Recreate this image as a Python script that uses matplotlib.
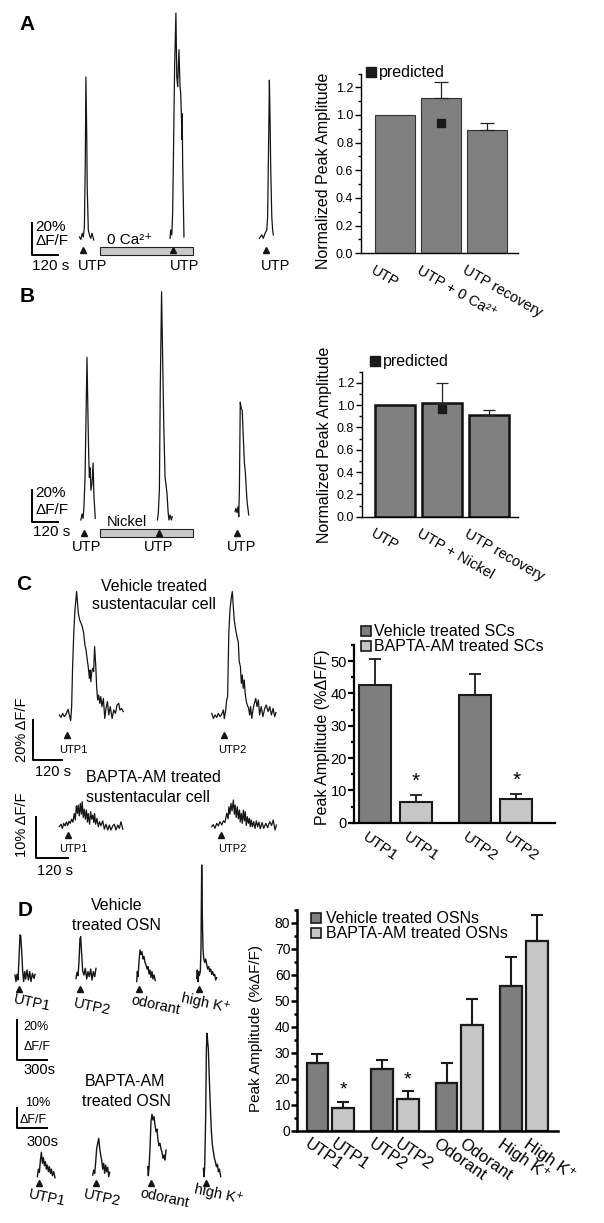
import numpy as np
import matplotlib
matplotlib.use('Agg')
import matplotlib.pyplot as plt
from matplotlib.lines import Line2D
from matplotlib.ticker import MultipleLocator
from matplotlib.transforms import ScaledTranslation

plt.rcParams['font.family'] = ['Liberation Sans', 'DejaVu Sans']

# ---------------- traces (time in s, response in %dF/F) ----------------
# panel A
a1_t = [218, 225, 231, 236, 241, 245, 248, 252, 254, 259, 264, 270, 276, 284]
a1_v = [0, -1.5, 2.3, 0, 6.5, 44, 100, 61, 31, 4.4, 1.3, -0.8, 2.3, -1.9]
a2_t = [635, 638, 643, 647, 650, 656, 662, 666, 670, 676, 681, 684, 687, 690, 691, 693, 696, 699]
a2_v = [-0.8, 4.4, 1.3, 14.8, 44, 106, 140, 100, 94, 117, 94, 90, 77, 61, 77, 46, 23, 0]
a3_t = [1046, 1057, 1064, 1072, 1080, 1084, 1089, 1092, 1095, 1098, 1103, 1107, 1110]
a3_v = [-0.8, 1.3, -0.8, 2.3, 4.4, 12.7, 65, 98, 75, 44, 12.7, 4.4, 1.3]
a_stim = [236, 650, 1076]

# panel B
b1_t = [225, 230, 235, 239, 244, 248, 253, 258, 261, 264, 267, 271, 276, 281, 285, 291]
b1_v = [-0.6, 3.1, 0.4, 7.7, 26, 60, 101, 60, 39, 26, 32, 18, 22, 35, 14, 0.4]
b2_t = [577, 581, 586, 590, 596, 601, 606, 612, 616, 621, 626, 630, 635, 641, 645]
b2_v = [-0.6, 3.5, 18, 81, 142, 101, 60, 26, 22, 16, 4.6, -0.6, 2.5, -0.6, 1.5]
b3_t = [934, 938, 943, 948, 951, 954, 958, 963, 967, 972, 977, 981, 986, 990, 997]
b3_v = [4.6, 6.7, 4, 7.7, 1.5, 18, 73, 69, 68, 51, 35, 30, 18, 10, 2.5]
b_stim = [241, 586, 944]

# panel C, vehicle treated sustentacular cell
c1_t = [110, 117, 124, 131, 138, 147, 152, 158, 162, 166, 171, 176, 183, 186, 190, 196, 202,
        207, 213, 218, 223, 228, 232, 237, 240, 243, 247, 251, 255, 259, 264, 268, 272, 276,
        281, 285, 290, 296, 302, 307, 313, 319, 325, 333, 340, 347, 354, 361, 366, 373, 380]
c1_v = [0, -1.2, 0.8, -0.8, 0.3, 2.8, 0, -2.8, 4.2, 24, 41, 52.5, 61.7, 57.5, 51, 47.5, 45.8,
        44.2, 40.8, 35, 32.5, 27.5, 24.2, 18.3, 22.5, 16.7, 21.7, 23.3, 21.7, 34.2, 24.2, 13.3,
        7.5, 10, 5.8, 9.2, 4.2, 8.3, -1.7, 3.3, 6.7, 0, 4.2, -1.7, 2.5, 0.8, 5, 5.8, 2.5, 3.3, 1.7]
c2_t = [754, 761, 768, 775, 782, 789, 796, 803, 807, 813, 817, 821, 826, 831, 837, 841, 845,
        849, 854, 858, 862, 866, 870, 875, 879, 883, 887, 891, 896, 900, 904, 910, 914, 918,
        923, 928, 934, 940, 945, 951, 956, 963, 970, 978, 984, 992, 999, 1006, 1013, 1020, 1025]
c2_v = [0.8, -1.7, 0, -1.2, 0.8, -0.8, 0.3, 2.5, -1.8, 2.5, 7.5, 9.2, 41, 52.5, 59.2, 61.7,
        54.2, 47.5, 43.3, 40.8, 38.3, 36.7, 26.7, 24.2, 15.8, 20, 13.3, 17.5, 10, 6.7, 5, 3.3,
        0, 4.2, -1.7, 2.5, 5.8, 8.3, 4.2, 7.5, 0, 4.2, -0.8, 3.3, 5, 1.7, 4.2, 0, 3.3, -0.8, 1.2]
c_stim = [141, 806]

# panel C, BAPTA-AM treated sustentacular cell
c3_t = [88, 95, 100, 105, 110, 115, 120, 125, 130, 135, 140, 145, 149, 153, 157, 160, 164,
        168, 172, 175, 179, 183, 187, 191, 195, 198, 203, 207, 211, 215, 219, 222, 226, 231,
        236, 241, 246, 253, 259, 265, 272, 278, 284, 291, 297, 303, 310, 316, 322, 329]
c3_v = [0, 0.6, -0.4, 0.8, 0.2, 1.1, 0.3, 1.3, 0.8, 1.8, 1.1, 3.2, 1.6, 5, 3.2, 5.2, 2.6,
        5.6, 3, 6, 2.2, 4.2, 1.8, 4, 1.1, 3.2, 0.6, 3.6, 1.8, 2.8, 1, 3.2, 0.6, 2, 0, 1.2, 0.2,
        1.4, -0.6, 0.6, -0.8, 0.4, -0.8, 0.2, 0.6, -0.8, 0.4, -0.4, 1.2, -0.6]
c4_t = [666, 672, 678, 685, 691, 697, 704, 710, 716, 723, 728, 731, 735, 739, 743, 748, 752,
        755, 759, 763, 767, 771, 774, 778, 782, 786, 790, 793, 797, 801, 805, 809, 812, 816,
        820, 825, 830, 835, 840, 845, 850, 857, 863, 871, 878, 886, 893, 899, 906, 911]
c4_v = [0, 0.5, -0.4, 0.8, 0.2, 1.2, 0.4, 1.4, 1, 3.2, 1.9, 4.8, 3, 5.6, 3.8, 6.4, 3, 5.2,
        2.2, 4.8, 1.9, 4, 1.1, 3.2, 0.8, 4, 1.4, 3.6, 0.3, 2.4, 0.8, 2, 0, 1.6, 0, 1.2, -0.4,
        1.4, 0, 1.1, -0.5, 1, -0.4, 0.8, -0.2, 1.2, 0.3, 1.6, -0.8, 0.4]
c_stim_b = [120, 700]

# panel D, vehicle treated OSN
d1_t = [-17, -7, 3, 13, 23, 33, 40, 50, 60, 70, 80, 90, 103, 117, 130, 143, 157, 173, 183]
d1_v = [2.5, -0.8, 2.8, 0, 10.8, 22.5, 22.2, 14.2, 4.2, -0.8, 4.2, 0.5, 5, 0, 4.2, -0.8, 3.3, 0.8, 2.8]
d2_t = [593, 603, 613, 623, 633, 640, 650, 660, 673, 686, 700, 713, 726, 740, 753, 766, 780, 793]
d2_v = [0.8, 3.8, 2.2, 9.2, 20.8, 21.7, 12.5, 4.5, 2.5, 5.8, 0.5, 4.2, 1.7, 5.5, 0, 4.2, 1.7, 5.8]
d3_t = [1200, 1206, 1213, 1223, 1233, 1243, 1253, 1263, 1273, 1283, 1293, 1303, 1313, 1323,
        1333, 1343, 1353, 1363, 1373, 1386]
d3_v = [-0.8, 4.2, 1.7, 9.2, 15, 12.8, 14.2, 10.5, 11.7, 8.8, 7.5, 5.5, 6.7, 3, 5, 1.3, 4.2,
        0.5, 2.5, -0.3]
d4_t = [1800, 1806, 1813, 1820, 1826, 1836, 1843, 1850, 1856, 1863, 1870, 1880, 1890, 1900,
        1910, 1920, 1930, 1940, 1950, 1960, 1970, 1980, 1990, 2000]
d4_v = [0.8, 5, -0.8, 4.2, 2.2, 4.2, 15.8, 57.5, 32.5, 15.8, 10.8, 8.8, 10.5, 7.8, 5.5, 6.7,
        4.2, 5.5, 2.8, 4.2, 2.2, 2.8, 0, 1.2]
d_stim = [26, 633, 1226, 1826]

# panel D, BAPTA-AM treated OSN
d5_t = [207, 217, 227, 237, 247, 257, 267, 277, 287, 297, 307, 317, 327, 337, 347, 357, 370, 383]
d5_v = [0, 3.8, 2.2, 8.3, 12.2, 6.7, 9.5, 5.5, 7.5, 3.8, 5.8, 2.5, 5, 1.7, 3.8, 0.5, 2.5, -0.5]
d6_t = [760, 770, 780, 790, 800, 810, 820, 830, 840, 850, 860, 870, 880, 890, 900, 910, 920, 930]
d6_v = [0.8, 3.3, 1.7, 7.5, 14.2, 16.7, 19.2, 14.2, 10.8, 8.3, 3.8, 6.7, 1.7, 5.8, 2.5, 4.7, 0, 2.2]
d7_t = [1310, 1316, 1323, 1333, 1343, 1353, 1363, 1373, 1383, 1393, 1403, 1413, 1423, 1433,
        1443, 1453, 1463, 1473, 1483, 1493]
d7_v = [5, 0.5, 4.2, 14.2, 27.5, 31.2, 28.3, 30, 25.8, 22.5, 23.8, 18.3, 15.5, 16.7, 13.8,
        12.2, 9.2, 10.8, 8.3, 13.3]
d8_t = [1867, 1873, 1880, 1890, 1897, 1903, 1910, 1917, 1927, 1937, 1947, 1957, 1967, 1977,
        1987, 1997, 2007, 2017, 2027, 2040]
d8_v = [4.2, 0, 5, 30.8, 64.2, 71.7, 67.5, 63.3, 47.5, 34.2, 22.5, 15.8, 12.5, 9.2, 7.5, 5,
        6.2, 2.5, 3.8, 0]
d_stim_b = [227, 793, 1340, 1890]

# ---------------- bar charts ----------------
a_labels = ['UTP', 'UTP + 0 Ca\u00b2\u207a', 'UTP recovery']
a_means = [1.0, 1.12, 0.89]
a_err = [0, 0.12, 0.05]
a_pred = 0.945

b_labels = ['UTP', 'UTP + Nickel', 'UTP recovery']
b_means = [1.0, 1.02, 0.915]
b_err = [0, 0.18, 0.04]
b_pred = 0.96

c_labels = ['UTP1', 'UTP1', 'UTP2', 'UTP2']
c_means = [42.5, 6.5, 39.4, 7.2]
c_err = [8.3, 2.1, 6.5, 1.7]
c_group = [0, 1, 0, 1]
c_sig = [False, True, False, True]

d_labels = ['UTP1', 'UTP1', 'UTP2', 'UTP2', 'Odorant', 'Odorant', 'High K\u207a', 'High K\u207a']
d_means = [26.1, 8.7, 23.9, 12.2, 18.6, 40.8, 55.6, 72.9]
d_err = [3.4, 2.6, 3.4, 3.2, 7.6, 9.9, 11.5, 10.3]
d_group = [0, 1, 0, 1, 0, 1, 0, 1]
d_sig = [False, True, False, True, False, False, False, False]

DARK = '#7e7e7e'
LIGHT = '#c6c6c6'
INK = '#151515'

W, H = 604, 1223
fig = plt.figure(figsize=(W / 100, H / 100), dpi=100)


def box(x0, y0, x1, y1):
    return [x0 / W, 1 - y1 / H, (x1 - x0) / W, (y1 - y0) / H]


def ftext(x, y, s, **kw):
    kw.setdefault('ha', 'center')
    kw.setdefault('va', 'center')
    fig.text(x / W, 1 - y / H, s, **kw)


def trace_axes(x0, y0, x1, y1, ox, oy, sx, sy):
    ax = fig.add_axes(box(x0, y0, x1, y1))
    ax.set_xlim((x0 - ox) * sx, (x1 - ox) * sx)
    ax.set_ylim((oy - y1) * sy, (oy - y0) * sy)
    ax.axis('off')
    return ax


def trace(ax, t, v, lw=0.9):
    ax.plot(t, v, color=INK, lw=lw, clip_on=False)


def stim(ax, ts, y):
    ax.plot(ts, [y] * len(ts), ls='', marker='^', ms=5, color=INK, clip_on=False, zorder=5)


def scalebar(ax, top, bot, width):
    ax.plot([0, 0, width], [top, bot, bot], color='k', lw=1.4, clip_on=False)


def bar_axes(x0, y0, x1, y1, lw, pad):
    ax = fig.add_axes(box(x0, y0, x1, y1))
    for s in ['top', 'right']:
        ax.spines[s].set_visible(False)
    for s in ['left', 'bottom']:
        ax.spines[s].set_linewidth(lw)
    ax.tick_params(axis='x', length=0)
    ax.tick_params(axis='y', which='major', direction='out', length=4, width=lw, pad=pad)
    ax.tick_params(axis='y', which='minor', direction='out', length=2.5, width=lw)
    return ax


def rot_labels(ax, pos, labels, rot, size, dx, pad):
    ax.set_xticks(pos)
    ax.set_xticklabels(labels, rotation=rot, ha='left', va='top', rotation_mode='anchor',
                       fontsize=size)
    ax.tick_params(axis='x', pad=pad)
    off = ScaledTranslation(dx / 100, 0, fig.dpi_scale_trans)
    for lb in ax.get_xticklabels():
        lb.set_transform(lb.get_transform() + off)


# ================= panel A =================
ax = trace_axes(0, 0, 300, 290, 32, 237, 4.6, 0.625)
ax.barh(-8.85, 429, left=313, height=4.9, color='#c8c8c8', edgecolor='#222222', lw=0.8)
trace(ax, a1_t, a1_v)
trace(ax, a2_t, a2_v)
trace(ax, a3_t, a3_v)
stim(ax, a_stim, -8.1)
scalebar(ax, 8.75, -11.25, 120)
ftext(27.5, 24, 'A', fontsize=15, fontweight='bold')
ftext(35, 227.5, '20%', ha='left', fontsize=11)
ftext(35, 241, '\u0394F/F', ha='left', fontsize=11)
ftext(32, 266, '120 s', ha='left', fontsize=11)
for xx in [92.5, 184.8, 275.5]:
    ftext(xx, 266, 'UTP', fontsize=10.5)
ftext(107, 240, '0 Ca\u00b2\u207a', ha='left', fontsize=11)

ax = bar_axes(361, 73.5, 518, 253.3, 1.0, 1.5)
x = np.arange(3)
ax.bar(x, a_means, width=0.87, color='#808080', edgecolor='#333333', lw=0.8)
e = [i for i in range(3) if a_err[i] > 0]
ax.errorbar(x[e], np.array(a_means)[e], yerr=[np.zeros(len(e)), np.array(a_err)[e]],
            fmt='none', ecolor='#222222', elinewidth=0.9, capsize=5, capthick=0.9)
ax.plot([1], [a_pred], ls='', marker='s', ms=6, color='#1a1a1a')
ax.set_xlim(-0.74, 2.67)
ax.set_ylim(0, 1.3)
ax.yaxis.set_major_locator(MultipleLocator(0.2))
ax.yaxis.set_minor_locator(MultipleLocator(0.1))
ax.set_yticklabels([f'{v:.1f}' for v in ax.get_yticks()], fontsize=9)
ax.set_ylim(0, 1.3)
ax.set_ylabel('Normalized Peak Amplitude', fontsize=11.5)
ax.yaxis.set_label_coords(-0.19, 0.458)
rot_labels(ax, x, a_labels, -30, 10.5, -20, 7)
ax.legend(handles=[Line2D([], [], ls='', marker='s', ms=7, color='#1a1a1a')], labels=['predicted'],
          loc='center left', bbox_to_anchor=(0.03, 1.004), frameon=False, borderpad=0,
          borderaxespad=0, handlelength=0.7, handletextpad=0.15, fontsize=11.5)

# ================= panel B =================
ax = trace_axes(0, 290, 300, 600, 32, 519, 4.6, 0.625)
ax.barh(-8.55, 429, left=313, height=5.1, color='#c8c8c8', edgecolor='#222222', lw=0.8)
trace(ax, b1_t, b1_v)
trace(ax, b2_t, b2_v)
trace(ax, b3_t, b3_v)
stim(ax, b_stim, -8.6)
scalebar(ax, 18, -2, 120)
ftext(27.5, 297, 'B', fontsize=15, fontweight='bold')
ftext(35, 492.5, '20%', ha='left', fontsize=11)
ftext(35, 510, '\u0394F/F', ha='left', fontsize=11)
ftext(33, 532.5, '120 s', ha='left', fontsize=11)
for xx in [86.7, 158.3, 241.7]:
    ftext(xx, 546.7, 'UTP', fontsize=10.5)
ftext(107, 522, 'Nickel', ha='left', fontsize=10.5)

ax = bar_axes(361.7, 371.5, 518.3, 516.7, 1.0, 1.5)
ax.bar(x, b_means, width=0.854, color='#808080', edgecolor='#111111', lw=1.8)
e = [i for i in range(3) if b_err[i] > 0]
ax.errorbar(x[e], np.array(b_means)[e], yerr=[np.zeros(len(e)), np.array(b_err)[e]],
            fmt='none', ecolor='#222222', elinewidth=0.9, capsize=4, capthick=0.9)
ax.plot([1], [b_pred], ls='', marker='s', ms=6, color='#1a1a1a')
ax.set_xlim(-0.71, 2.63)
ax.yaxis.set_major_locator(MultipleLocator(0.2))
ax.yaxis.set_minor_locator(MultipleLocator(0.1))
ax.set_ylim(0, 1.3)
ax.set_yticklabels([f'{v:.1f}' for v in ax.get_yticks()], fontsize=9)
ax.set_ylim(0, 1.3)
ax.set_ylabel('Normalized Peak Amplitude', fontsize=11.5)
ax.yaxis.set_label_coords(-0.19, 0.494)
rot_labels(ax, x, b_labels, -30, 10.5, -20, 7)
ax.legend(handles=[Line2D([], [], ls='', marker='s', ms=7, color='#1a1a1a')], labels=['predicted'],
          loc='center left', bbox_to_anchor=(0.05, 1.067), frameon=False, borderpad=0,
          borderaxespad=0, handlelength=0.7, handletextpad=0.15, fontsize=11.5)

# ================= panel C =================
ax = trace_axes(0, 575, 300, 770, 33.3, 715, 4.225, 0.5)
trace(ax, c1_t, c1_v)
trace(ax, c2_t, c2_v)
stim(ax, c_stim, -10)
scalebar(ax, -2.5, -22.5, 120)
ax = trace_axes(0, 770, 300, 880, 36, 826.7, 3.79, 0.24)
trace(ax, c3_t, c3_v)
trace(ax, c4_t, c4_v)
stim(ax, c_stim_b, -2)
scalebar(ax, 2.4, -7.6, 120)
ftext(24, 584, 'C', fontsize=15, fontweight='bold')
ftext(154, 587, 'Vehicle treated', fontsize=11.5)
ftext(154, 605, 'sustentacular cell', fontsize=11.5)
ftext(22.5, 730, '20% \u0394F/F', rotation=90, fontsize=10.5)
ftext(35, 772.5, '120 s', ha='left', fontsize=10.5)
ftext(73.7, 750, 'UTP1', fontsize=8)
ftext(232.5, 750, 'UTP2', fontsize=8)
ftext(86, 777, 'BAPTA-AM treated', ha='left', fontsize=11.5)
ftext(86, 797, 'sustentacular cell', ha='left', fontsize=11.5)
ftext(22.5, 825, '10% \u0394F/F', rotation=90, fontsize=10.5)
ftext(73.7, 849.3, 'UTP1', fontsize=8)
ftext(232.5, 849.3, 'UTP2', fontsize=8)
ftext(55, 871, '120 s', fontsize=10.5)

ax = bar_axes(354, 645, 555, 822.7, 1.6, 1.0)
cx = np.array([0, 1, 2.45, 3.45])
cols = [DARK if g == 0 else LIGHT for g in c_group]
ax.bar(cx, c_means, width=0.78, color=cols, edgecolor='#1a1a1a', lw=1.5)
ax.errorbar(cx, c_means, yerr=[np.zeros(4), c_err], fmt='none', ecolor='#1a1a1a',
            elinewidth=1.3, capsize=4, capthick=1.3)
for i in range(4):
    if c_sig[i]:
        ax.annotate('*', (cx[i], c_means[i] + c_err[i]), xytext=(0, 3), textcoords='offset points',
                    ha='center', va='bottom', fontsize=15)
ax.set_xlim(-0.51, 4.39)
ax.set_ylim(0, 55)
ax.yaxis.set_major_locator(MultipleLocator(10))
ax.yaxis.set_minor_locator(MultipleLocator(5))
ax.tick_params(axis='y', labelsize=10.5)
ax.set_ylabel('Peak Amplitude (%\u0394F/F)', fontsize=11.5)
ax.yaxis.set_label_coords(-0.12, 0.48)
rot_labels(ax, cx, c_labels, -35, 11, -7, 5)
hs = [Line2D([], [], ls='', marker='s', ms=7, mfc=c, mec='#1a1a1a', mew=1.2) for c in [DARK, LIGHT]]
ax.legend(hs, ['Vehicle treated SCs', 'BAPTA-AM treated SCs'], loc='center left',
          bbox_to_anchor=(0.03, 1.033), frameon=False, borderpad=0, borderaxespad=0,
          handlelength=0.7, handletextpad=0.2, labelspacing=0.0, fontsize=11.5)

# ================= panel D =================
ax = trace_axes(0, 860, 260, 1020, 16.7, 980, 10, 0.5)
for t, v in [(d1_t, d1_v), (d2_t, d2_v), (d3_t, d3_v), (d4_t, d4_v)]:
    trace(ax, t, v, lw=1.0)
stim(ax, d_stim, -4.5)
scalebar(ax, -20, -40, 300)
ax = trace_axes(0, 1020, 260, 1223, 16.7, 1176.7, 10, 0.5)
for t, v in [(d5_t, d5_v), (d6_t, d6_v), (d7_t, d7_v), (d8_t, d8_v)]:
    trace(ax, t, v, lw=1.0)
stim(ax, d_stim_b, -3.3)
scalebar(ax, 34.2, 24.2, 300)
ftext(25, 911, 'D', fontsize=15, fontweight='bold')
ftext(116.7, 905, 'Vehicle', fontsize=11.5)
ftext(116.3, 926, 'treated OSN', fontsize=11.5)
ftext(23.3, 1027, '20%', ha='left', fontsize=9)
ftext(23.3, 1047, '\u0394F/F', ha='left', fontsize=9)
ftext(23.3, 1070, '300s', ha='left', fontsize=10.5)
ftext(25, 1103, '10%', ha='left', fontsize=9)
ftext(20, 1120, '\u0394F/F', ha='left', fontsize=9)
ftext(26.7, 1142, '300s', ha='left', fontsize=10.5)
ftext(125, 1082, 'BAPTA-AM', fontsize=11.5)
ftext(126.7, 1102, 'treated OSN', fontsize=11.5)
for xx, yy, s in [(32.5, 1003, 'UTP1'), (91.7, 1006.7, 'UTP2'), (155.8, 1005, 'odorant'),
                  (205.8, 1003.3, 'high K\u207a'), (47.5, 1197.5, 'UTP1'), (101.7, 1197.5, 'UTP2'),
                  (164.7, 1198, 'odorant'), (219, 1194, 'high K\u207a')]:
    ftext(xx, yy, s, rotation=-12, fontsize=10.5)

ax = bar_axes(297.3, 910, 558.3, 1131, 1.8, 1.0)
dx = np.array([0, 1, 2.5, 3.5, 5, 6, 7.5, 8.5])
cols = [DARK if g == 0 else LIGHT for g in d_group]
ax.bar(dx, d_means, width=0.84, color=cols, edgecolor='#1a1a1a', lw=1.6)
ax.errorbar(dx, d_means, yerr=[np.zeros(8), d_err], fmt='none', ecolor='#1a1a1a',
            elinewidth=1.5, capsize=4, capthick=1.5)
for i in range(8):
    if d_sig[i]:
        ax.annotate('*', (dx[i], d_means[i] + d_err[i]), xytext=(0, 2), textcoords='offset points',
                    ha='center', va='bottom', fontsize=14)
ax.set_xlim(-0.78, 9.33)
ax.set_ylim(0, 85)
ax.yaxis.set_major_locator(MultipleLocator(10))
ax.yaxis.set_minor_locator(MultipleLocator(5))
ax.tick_params(axis='y', labelsize=10)
ax.set_ylabel('Peak Amplitude (%\u0394F/F)', fontsize=11)
ax.yaxis.set_label_coords(-0.13, 0.466)
rot_labels(ax, dx, d_labels, -35, 12, -7, 4)
hs = [Line2D([], [], ls='', marker='s', ms=7, mfc=c, mec='#1a1a1a', mew=1.2) for c in [DARK, LIGHT]]
ax.legend(hs, ['Vehicle treated OSNs', 'BAPTA-AM treated OSNs'], loc='center left',
          bbox_to_anchor=(0.05, 0.927), frameon=False, borderpad=0, borderaxespad=0,
          handlelength=0.7, handletextpad=0.25, labelspacing=0.0, fontsize=11.5)

fig.savefig('out.png', dpi=100)
